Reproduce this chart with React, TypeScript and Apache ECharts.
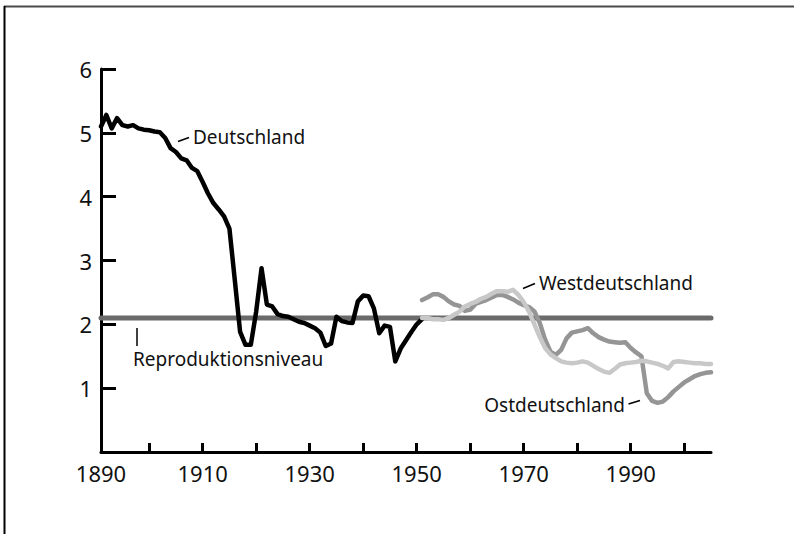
import React, { useEffect, useRef } from "react";
import * as echarts from "echarts";

// ---- data ----
const xMin = 1891;
const xMax = 2005;
const xTickYears = [1900, 1910, 1920, 1930, 1940, 1950, 1960, 1970, 1980, 1990, 2000];
const xLabelYears = [1891, 1910, 1930, 1950, 1970, 1990];
const xLabelTexts = ["1890", "1910", "1930", "1950", "1970", "1990"];
const yTicks = [1, 2, 3, 4, 5, 6];

const reproductionLevel = 2.1;

const deutschlandStart = 1891;
const deutschlandTfr = [
  5.1, 5.28, 5.07, 5.23, 5.12, 5.1, 5.12, 5.07, 5.05, 5.04,
  5.02, 5.01, 4.92, 4.76, 4.7, 4.6, 4.57, 4.45, 4.4, 4.23,
  4.05, 3.9, 3.8, 3.69, 3.5, 2.7, 1.88, 1.68, 1.68, 2.2,
  2.88, 2.31, 2.28, 2.16, 2.13, 2.12, 2.08, 2.04, 2.02, 1.98,
  1.94, 1.87, 1.66, 1.7, 2.12, 2.05, 2.03, 2.02, 2.36, 2.45,
  2.44, 2.25, 1.86, 1.98, 1.96, 1.42, 1.62, 1.75, 1.88, 2.0,
  2.08,
];

const westStart = 1951;
const westTfr = [
  2.1, 2.1, 2.08, 2.08, 2.07, 2.1, 2.15, 2.2, 2.28, 2.32,
  2.35, 2.4, 2.43, 2.48, 2.52, 2.52, 2.51, 2.54, 2.46, 2.35,
  2.2, 2.0, 1.8, 1.63, 1.53, 1.47, 1.42, 1.4, 1.39, 1.4,
  1.42, 1.4, 1.35, 1.3, 1.26, 1.24, 1.3, 1.37, 1.39, 1.4,
  1.41, 1.43, 1.42, 1.4, 1.38, 1.35, 1.31, 1.41, 1.42, 1.41,
  1.4, 1.39, 1.39, 1.38, 1.38,
];

const ostStart = 1951;
const ostTfr = [
  2.38, 2.42, 2.47, 2.47, 2.43, 2.36, 2.31, 2.29, 2.21, 2.23,
  2.32, 2.35, 2.38, 2.42, 2.46, 2.46, 2.43, 2.39, 2.34, 2.3,
  2.27, 2.2, 2.02, 1.76, 1.57, 1.52, 1.6, 1.78, 1.87, 1.89,
  1.91, 1.94, 1.86, 1.8, 1.76, 1.73, 1.72, 1.71, 1.72, 1.63,
  1.56, 1.5, 0.92, 0.8, 0.77, 0.79, 0.86, 0.95, 1.02, 1.09,
  1.14, 1.19, 1.22, 1.24, 1.25,
];

const toPairs = (start: number, vals: number[]) => vals.map((v, i) => [start + i, v]);

const FONT = '"Noto Sans", sans-serif';

export default function App() {
  const ref = useRef<HTMLDivElement>(null);

  useEffect(() => {
    if (!ref.current) return;
    const chart = echarts.init(ref.current, null, { renderer: "svg" });

    const lineSeries = (name: string, data: number[][], color: string, width: number) => ({
      name,
      type: "line",
      data,
      showSymbol: false,
      symbol: "none",
      smooth: false,
      lineStyle: { color, width, cap: "round", join: "round" },
      emphasis: { disabled: true },
    });

    const textStyle = { fill: "#111", font: `19px ${FONT}` };

    chart.setOption({
      animation: false,
      backgroundColor: "#ffffff",
      grid: { left: 101, right: 83, top: 69, bottom: 82, containLabel: false },
      xAxis: {
        type: "value",
        min: xMin,
        max: xMax,
        axisLine: { show: true, lineStyle: { color: "#000", width: 3 } },
        axisTick: {
          show: true,
          inside: true,
          length: 9,
          customValues: xTickYears,
          lineStyle: { color: "#000", width: 3 },
        },
        axisLabel: {
          show: true,
          customValues: xLabelYears,
          margin: 10,
          fontFamily: FONT,
          fontSize: 22,
          color: "#111",
          showMinLabel: true,
          formatter: (v: number) => {
            const i = xLabelYears.indexOf(v);
            return i >= 0 ? xLabelTexts[i] : "";
          },
        },
        splitLine: { show: false },
      },
      yAxis: {
        type: "value",
        min: 0,
        max: 6,
        interval: 1,
        axisLine: { show: true, lineStyle: { color: "#000", width: 3 } },
        axisTick: {
          show: true,
          inside: true,
          length: 15,
          customValues: yTicks,
          lineStyle: { color: "#000", width: 3 },
        },
        axisLabel: {
          show: true,
          margin: 9,
          fontFamily: FONT,
          fontSize: 22,
          color: "#111",
          padding: [10, 0, 0, 0],
          formatter: (v: number) => (v === 0 ? "" : String(v)),
        },
        splitLine: { show: false },
      },
      series: [
        lineSeries("Reproduktionsniveau", [[xMin, reproductionLevel], [xMax, reproductionLevel]], "#6a6a6a", 5),
        lineSeries("Deutschland", toPairs(deutschlandStart, deutschlandTfr), "#000000", 4.5),
        lineSeries("Ostdeutschland", toPairs(ostStart, ostTfr), "#959595", 4.5),
        lineSeries("Westdeutschland", toPairs(westStart, westTfr), "#c8c8c8", 4.5),
      ],
      graphic: [
        // frame
        { type: "line", shape: { x1: 4, y1: 6.5, x2: 794, y2: 6.5 }, style: { stroke: "#4a4a4a", lineWidth: 2 } },
        { type: "line", shape: { x1: 4.5, y1: 6, x2: 4.5, y2: 534 }, style: { stroke: "#000", lineWidth: 2 } },
        // Deutschland
        { type: "line", shape: { x1: 178, y1: 141.5, x2: 189, y2: 137.5 }, style: { stroke: "#000", lineWidth: 1.5 } },
        { type: "text", x: 193, y: 137, style: { ...textStyle, text: "Deutschland", align: "left", verticalAlign: "middle" } },
        // Reproduktionsniveau
        { type: "line", shape: { x1: 137, y1: 328, x2: 137, y2: 346 }, style: { stroke: "#000", lineWidth: 1.5 } },
        { type: "text", x: 133, y: 359, style: { ...textStyle, text: "Reproduktionsniveau", align: "left", verticalAlign: "middle" } },
        // Westdeutschland
        { type: "line", shape: { x1: 523, y1: 288.5, x2: 535, y2: 283.5 }, style: { stroke: "#000", lineWidth: 1.5 } },
        { type: "text", x: 539, y: 283, style: { ...textStyle, text: "Westdeutschland", align: "left", verticalAlign: "middle" } },
        // Ostdeutschland
        { type: "line", shape: { x1: 628.5, y1: 404, x2: 640, y2: 400.5 }, style: { stroke: "#000", lineWidth: 1.5 } },
        { type: "text", x: 625, y: 405, style: { ...textStyle, text: "Ostdeutschland", align: "right", verticalAlign: "middle" } },
      ],
    });

    return () => chart.dispose();
  }, []);

  return (
    <div
      ref={ref}
      style={{ position: "absolute", left: 0, top: 0, width: 794, height: 534, background: "#fff" }}
    />
  );
}
